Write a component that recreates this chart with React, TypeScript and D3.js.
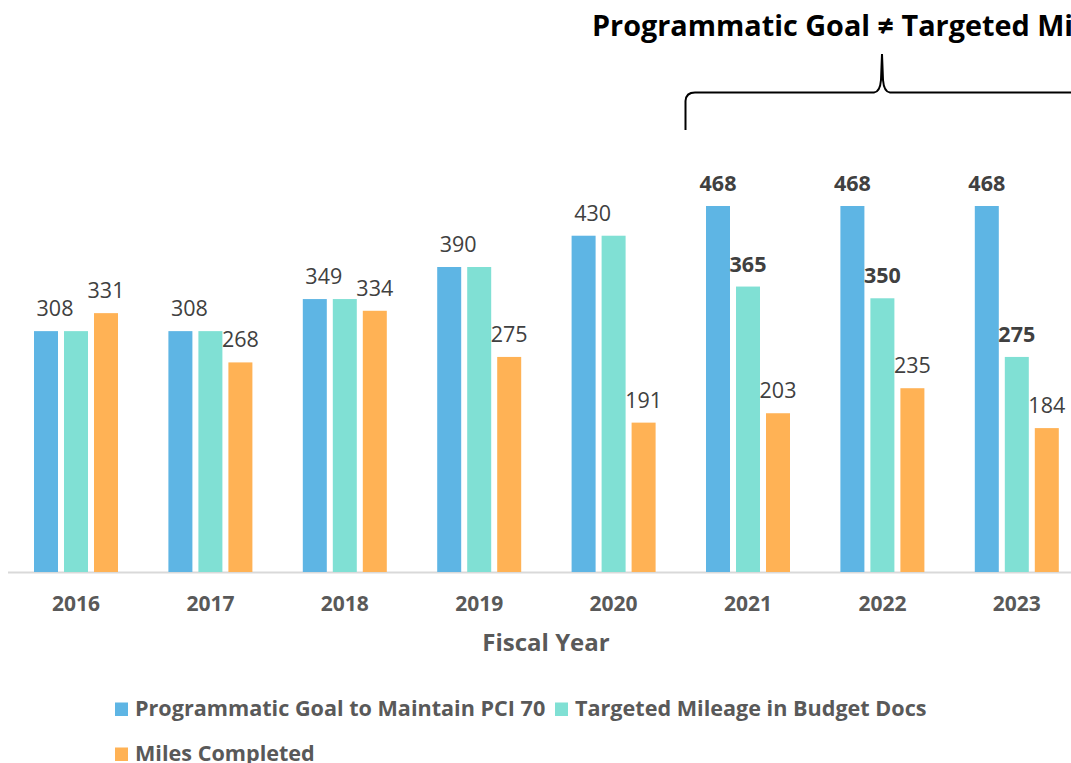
import * as d3 from 'd3';

const years = ['2016', '2017', '2018', '2019', '2020', '2021', '2022', '2023'];
const seriesNames = [
    'Programmatic Goal to Maintain PCI 70',
    'Targeted Mileage in Budget Docs',
    'Miles Completed'
];
const goalMiles = [308, 308, 349, 390, 430, 468, 468, 468];
const targetedMiles = [308, 308, 349, 390, 430, 365, 350, 275];
const completedMiles = [331, 268, 334, 275, 191, 203, 235, 184];
const colors = ['#5EB5E4', '#80E0D4', '#FFB255'];
// years where the goal and target labels are bold
const boldYears = ['2021', '2022', '2023'];
const title = 'Programmatic Goal \u2260 Targeted Mileage';

const FONT = '"Open Sans", sans-serif';

function App() {
    const width = 1071;
    const height = 763;
    const baseY = 572;

    const x0 = d3.scaleBand<string>()
        .domain(years)
        .range([8.8, 1084])
        .paddingInner(0.375)
        .paddingOuter(0.1875);

    const x1 = d3.scaleBand<string>()
        .domain(seriesNames)
        .range([0, x0.bandwidth()])
        .paddingInner(0.2);

    const y = d3.scaleLinear()
        .domain([0, 468])
        .range([baseY, 206]);

    const values = [goalMiles, targetedMiles, completedMiles];

    // curly bracket over 2021-2023
    const bracket = d3.path();
    bracket.moveTo(685.5, 130);
    bracket.lineTo(685.5, 101);
    bracket.quadraticCurveTo(686, 92.5, 695, 92.5);
    bracket.lineTo(874, 92.5);
    bracket.quadraticCurveTo(880, 92, 881, 80);
    bracket.lineTo(882, 54);
    bracket.lineTo(883, 80);
    bracket.quadraticCurveTo(884, 92, 890, 92.5);
    bracket.lineTo(1075, 92.5);

    return (
        <svg width={width} height={height}
            style={{ position: 'absolute', left: 0, top: 0, background: '#fff' }}>
            <text x={592} y={36} fontFamily={FONT} fontWeight={700} fontSize={28.8} fill="#000">
                {title}
            </text>
            <path d={bracket.toString()} fill="none" stroke="#000" strokeWidth={2} />

            <line x1={8} x2={width} y1={baseY + 0.5} y2={baseY + 0.5} stroke="#d9d9d9" strokeWidth={2} />

            {years.map((yr, i) => (
                <g key={yr} transform={`translate(${x0(yr)},0)`}>
                    {seriesNames.map((s, j) => {
                        const v = values[j][i];
                        const bx = x1(s) as number;
                        const bold = boldYears.includes(yr) && j < 2;
                        // when goal equals target only one label is shown
                        const merged = goalMiles[i] === targetedMiles[i];
                        if (merged && j === 1) {
                            return (
                                <rect key={s} x={bx} y={y(v)} width={x1.bandwidth()} height={baseY - y(v)} fill={colors[j]} />
                            );
                        }
                        const lx = bx + x1.bandwidth() / 2 + (merged && j === 0 ? 9 : 0);
                        return (
                            <g key={s}>
                                <rect x={bx} y={y(v)} width={x1.bandwidth()} height={baseY - y(v)} fill={colors[j]} />
                                <text x={lx} y={y(v) - 15}
                                    textAnchor="middle" fontFamily={FONT} fontSize={21.5}
                                    fontWeight={bold ? 700 : 400} fill="#404040">
                                    {v}
                                </text>
                            </g>
                        );
                    })}
                    <text x={x0.bandwidth() / 2} y={611} textAnchor="middle" fontFamily={FONT}
                        fontWeight={700} fontSize={21} fill="#595959">
                        {yr}
                    </text>
                </g>
            ))}

            <text x={546} y={651} textAnchor="middle" fontFamily={FONT} fontWeight={700}
                fontSize={24} fill="#595959">
                Fiscal Year
            </text>

            {/* legend */}
            {[
                { x: 115, y: 709, i: 0 },
                { x: 555, y: 709, i: 1 },
                { x: 115, y: 754, i: 2 }
            ].map(d => (
                <g key={d.i}>
                    <rect x={d.x} y={d.y - 6.5} width={13} height={13.5} fill={colors[d.i]} />
                    <text x={d.x + 20} y={d.y + 7} fontFamily={FONT} fontWeight={700}
                        fontSize={21.6} fill="#595959">
                        {seriesNames[d.i]}
                    </text>
                </g>
            ))}
        </svg>
    );
}

export default App;
